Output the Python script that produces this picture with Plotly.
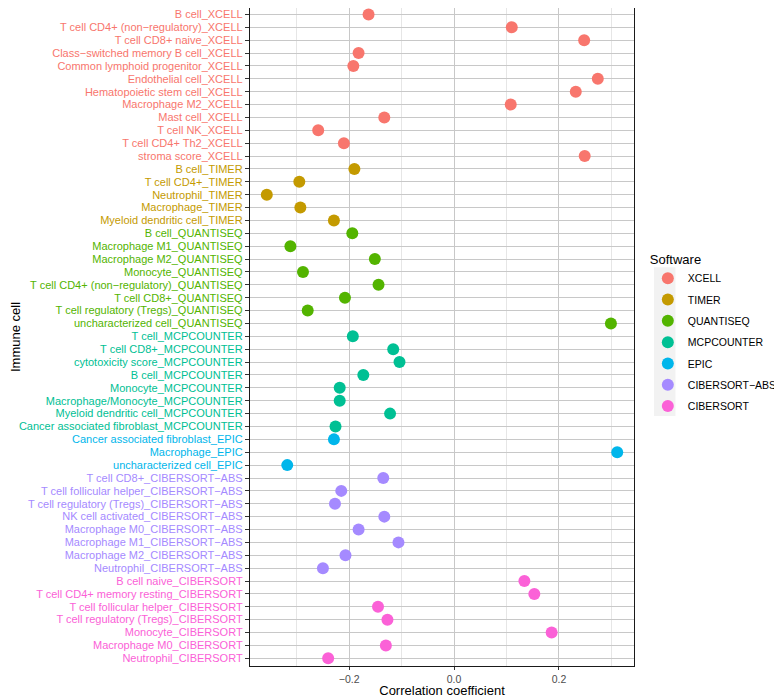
import plotly.graph_objects as go

# Software groups, ggplot default hue palette
software = ["XCELL", "TIMER", "QUANTISEQ", "MCPCOUNTER", "EPIC", "CIBERSORT−ABS", "CIBERSORT"]
colors = ["#F8766D", "#C49A00", "#53B400", "#00C094", "#00B6EB", "#A58AFF", "#FB61D7"]

# Immune cells per software (top to bottom) and their correlation coefficients
xcell_cells = ["B cell", "T cell CD4+ (non−regulatory)", "T cell CD8+ naive",
               "Class−switched memory B cell", "Common lymphoid progenitor", "Endothelial cell",
               "Hematopoietic stem cell", "Macrophage M2", "Mast cell", "T cell NK",
               "T cell CD4+ Th2", "stroma score"]
xcell_r = [-0.163, 0.110, 0.248, -0.182, -0.192, 0.274, 0.232, 0.108, -0.133, -0.259, -0.210, 0.249]

timer_cells = ["B cell", "T cell CD4+", "Neutrophil", "Macrophage", "Myeloid dendritic cell"]
timer_r = [-0.190, -0.295, -0.357, -0.293, -0.229]

quantiseq_cells = ["B cell", "Macrophage M1", "Macrophage M2", "Monocyte",
                   "T cell CD4+ (non−regulatory)", "T cell CD8+", "T cell regulatory (Tregs)",
                   "uncharacterized cell"]
quantiseq_r = [-0.194, -0.312, -0.151, -0.288, -0.144, -0.208, -0.279, 0.299]

mcpcounter_cells = ["T cell", "T cell CD8+", "cytotoxicity score", "B cell", "Monocyte",
                    "Macrophage/Monocyte", "Myeloid dendritic cell", "Cancer associated fibroblast"]
mcpcounter_r = [-0.193, -0.116, -0.104, -0.173, -0.218, -0.218, -0.122, -0.226]

epic_cells = ["Cancer associated fibroblast", "Macrophage", "uncharacterized cell"]
epic_r = [-0.229, 0.311, -0.318]

cibersort_abs_cells = ["T cell CD8+", "T cell follicular helper", "T cell regulatory (Tregs)",
                       "NK cell activated", "Macrophage M0", "Macrophage M1", "Macrophage M2",
                       "Neutrophil"]
cibersort_abs_r = [-0.135, -0.215, -0.227, -0.133, -0.182, -0.106, -0.207, -0.250]

cibersort_cells = ["B cell naive", "T cell CD4+ memory resting", "T cell follicular helper",
                   "T cell regulatory (Tregs)", "Monocyte", "Macrophage M0", "Neutrophil"]
cibersort_r = [0.134, 0.153, -0.145, -0.127, 0.186, -0.130, -0.240]

groups = [
    (xcell_cells, xcell_r),
    (timer_cells, timer_r),
    (quantiseq_cells, quantiseq_r),
    (mcpcounter_cells, mcpcounter_r),
    (epic_cells, epic_r),
    (cibersort_abs_cells, cibersort_abs_r),
    (cibersort_cells, cibersort_r),
]

fig = go.Figure()
all_labels = []
tick_text = []
for name, color, (cells, r) in zip(software, colors, groups):
    labels = [f"{c}_{name}" for c in cells]
    all_labels += labels
    tick_text += [f'<span style="color:{color}">{lab}</span>' for lab in labels]
    fig.add_trace(go.Scatter(
        x=r, y=labels, mode="markers", name=name, legendgroup=name,
        marker=dict(size=12, color=color), cliponaxis=False,
    ))

n = len(all_labels)
grid = "#C8C8C8"

# page body has an 8px default margin, so the figure is a bit smaller than the window
fig.update_layout(
    width=774, height=690,
    margin=dict(l=242, r=143, t=0, b=32),
    plot_bgcolor="white", paper_bgcolor="white",
    font=dict(family="Arial, Liberation Sans, sans-serif", size=11, color="#1A1A1A"),
    legend=dict(
        title=dict(text="Software", font=dict(size=13, color="black")),
        x=1.036, xanchor="left", y=0.637, yanchor="top",
        font=dict(size=10.5, color="black"),
        tracegroupgap=2.3,
        bgcolor="rgba(0,0,0,0)",
    ),
    xaxis=dict(
        title=dict(text="Correlation coefficient", font=dict(size=13, color="black"), standoff=4),
        automargin=False,
        range=[-0.389, 0.343], tick0=0, dtick=0.2, tickformat=".1f",
        showgrid=True, gridcolor=grid, gridwidth=1, zeroline=False,
        minor=dict(dtick=0.1, tick0=0, showgrid=True, gridcolor="#E6E6E6", gridwidth=1, ticklen=0),
        ticks="outside", ticklen=3, tickcolor="#333333",
        tickfont=dict(size=10.5, color="#4D4D4D"),
        showline=True, mirror=True, linecolor="#1A1A1A", linewidth=1.3,
    ),
    yaxis=dict(
        title=dict(text="Immune cell", font=dict(size=13, color="black")),
        automargin=False,
        type="category", categoryorder="array", categoryarray=all_labels,
        range=[n - 0.4, -0.5],
        tickmode="array", tickvals=all_labels, ticktext=tick_text,
        showgrid=True, gridcolor=grid, gridwidth=1,
        ticks="outside", ticklen=4, tickcolor="#333333",
        tickfont=dict(size=11),
        showline=True, mirror=True, linecolor="#1A1A1A", linewidth=1.3,
    ),
)

# light grey backing behind the legend keys, as in ggplot
fig.add_shape(type="rect", xref="paper", yref="paper",
              x0=1.052, x1=1.108, y0=0.380, y1=0.606,
              fillcolor="#F2F2F2", line=dict(width=0), layer="below")

fig.write_html("out.html")
